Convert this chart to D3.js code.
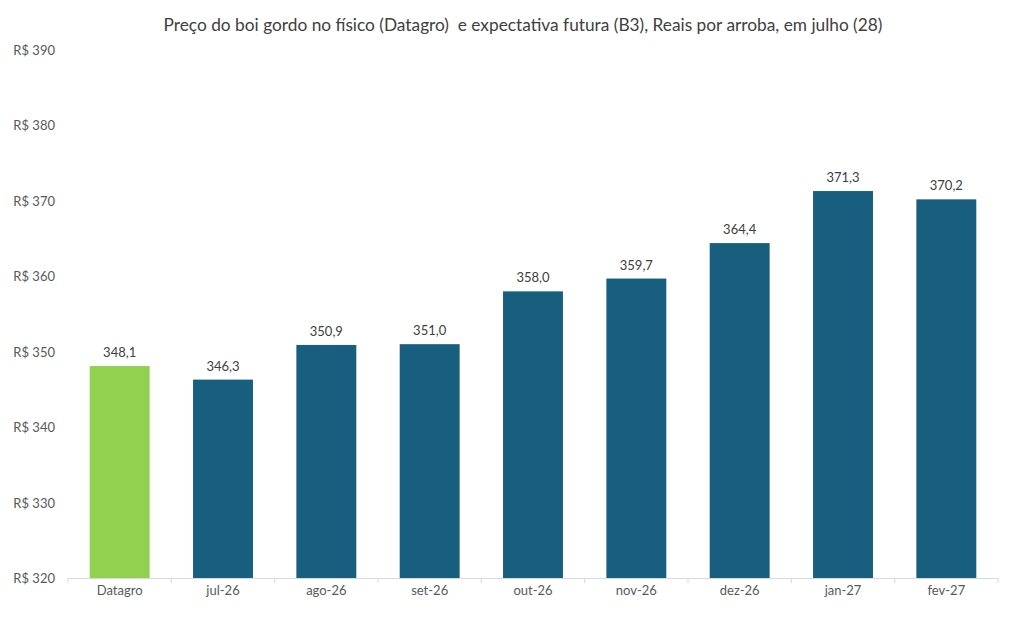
<!DOCTYPE html>
<html><head><meta charset="utf-8">
<script src="https://cdn.jsdelivr.net/npm/d3@7"></script>
<style>
body{margin:0;background:#fff;}
text{font-family:Lato,"Open Sans",sans-serif;}
</style></head>
<body><svg id="c" width="1011" height="629"></svg>
<script>
const categories = ["Datagro","jul-26","ago-26","set-26","out-26","nov-26","dez-26","jan-27","fev-27"];
const values = [348.1,346.3,350.9,351.0,358.0,359.7,364.4,371.3,370.2];
const yTicks = [320,330,340,350,360,370,380,390];
const title = "Preço do boi gordo no físico (Datagro)  e expectativa futura (B3), Reais por arroba, em julho (28)";

const svg = d3.select("#c");
const x = d3.scaleBand().domain(categories).range([68,998]).paddingInner(0.42).paddingOuter(0.21);
const y = d3.scaleLinear().domain([320,390]).range([578,50]);

svg.append("text").attr("x",523).attr("y",31).attr("text-anchor","middle")
  .style("white-space","pre")
  .attr("font-size",17.3).attr("fill","#404040").text(title);

const yAxis = d3.axisLeft(y).tickValues(yTicks).tickSize(0).tickFormat(d=>"R$ "+d);
const ga = svg.append("g").attr("transform","translate(55,0)").call(yAxis);
ga.select(".domain").remove();
ga.selectAll("text").attr("font-size",13).attr("fill","#595959").attr("x",0).attr("dy","0.35em");

svg.selectAll("rect.bar").data(values).enter().append("rect").attr("class","bar")
  .attr("x",(d,i)=>x(categories[i])).attr("width",x.bandwidth())
  .attr("y",d=>y(d)).attr("height",d=>y(320)-y(d))
  .attr("fill",(d,i)=>i===0?"#92D050":"#175E7F");

svg.selectAll("text.lbl").data(values).enter().append("text").attr("class","lbl")
  .attr("x",(d,i)=>x(categories[i])+x.bandwidth()/2).attr("y",d=>y(d)-9)
  .attr("text-anchor","middle").attr("font-size",13).attr("fill","#404040")
  .text(d=>d.toFixed(1).replace(".",","));

const xAxis = d3.axisBottom(x).tickSize(0);
const gx = svg.append("g").attr("transform","translate(0,578)").call(xAxis);
gx.select(".domain").attr("stroke","#d9d9d9");
gx.selectAll("text").attr("font-size",13).attr("fill","#595959").attr("dy","1.1em");
const bounds = d3.range(categories.length+1).map(i=>68+i*(998-68)/categories.length);
svg.selectAll("line.tk").data(bounds).enter().append("line").attr("class","tk")
  .attr("x1",d=>d).attr("x2",d=>d).attr("y1",578).attr("y2",583).attr("stroke","#d9d9d9");
</script></body></html>
